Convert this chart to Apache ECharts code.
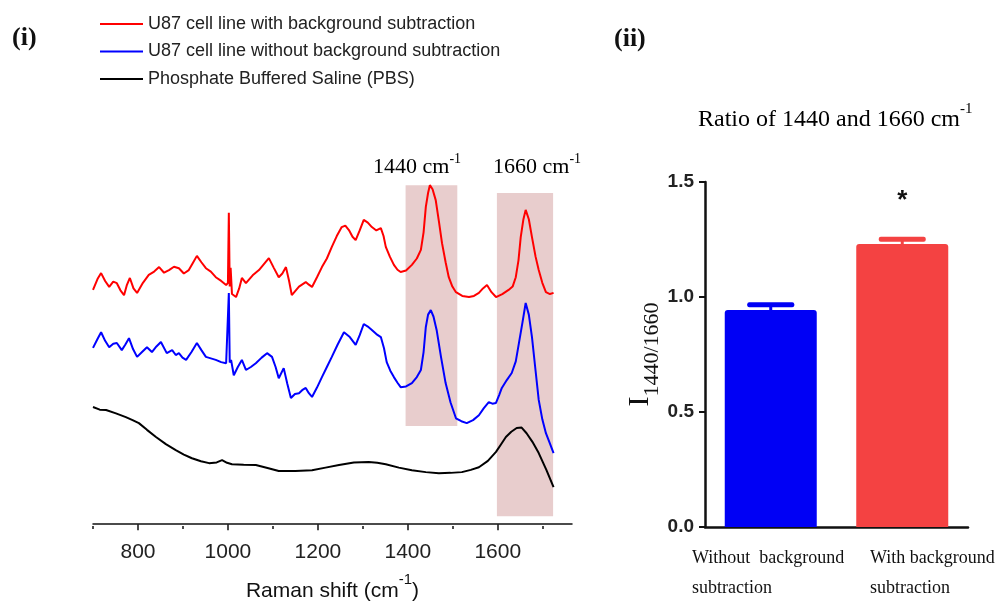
<!DOCTYPE html>
<html><head><meta charset="utf-8">
<script src="https://cdn.jsdelivr.net/npm/echarts@6/dist/echarts.min.js"></script>
<style>html,body{margin:0;padding:0;background:#fff}#c{width:1004px;height:601px}</style>
</head><body><div id="c"></div>
<script>
// ---------- Panel (i): Raman spectra ----------
const seriesNames = ['U87 cell line with background subtraction', 'U87 cell line without background subtraction', 'Phosphate Buffered Saline (PBS)'];
const seriesColors = ['#ff0000', '#0000ff', '#000000'];

const redShift = [700,710,718,727,736,745,753,761,769,775,782,790,798,811,824,836,847,858,869,880,891,902,913,922,931,941,951,962,973,985,996,1000,1002,1004,1006,1009,1018,1025,1031,1040,1055,1069,1080,1091,1102,1113,1121,1129,1136,1142,1158,1173,1180,1187,1198,1209,1220,1231,1242,1253,1261,1269,1277,1284,1293,1302,1311,1320,1330,1340,1346,1351,1360,1369,1377,1384,1396,1409,1420,1429,1435,1440,1445,1449,1455,1462,1469,1476,1484,1491,1499,1507,1521,1536,1547,1558,1567,1576,1586,1596,1610,1624,1633,1640,1646,1651,1657,1662,1669,1676,1684,1691,1699,1707,1716,1724];
const redIntensity = [62.6,65.5,67.1,65.0,63.4,64.8,64.4,62.5,61.2,63.8,65.8,63.0,61.8,64.5,66.6,67.5,68.7,67.2,67.9,68.8,68.4,67.0,67.9,69.8,71.7,70.0,68.4,67.5,66.0,65.0,63.9,64.5,83.2,63.5,68.5,61.5,60.7,63.0,65.8,64.4,66.5,67.9,69.5,71.1,68.5,66.0,67.0,68.7,65.0,61.2,63.5,64.7,64.0,63.4,66.0,68.7,71.0,74.1,77.0,79.4,79.8,78.6,76.8,75.9,78.5,81.3,80.6,79.4,78.5,79.1,77.0,74.1,71.5,69.3,68.0,67.4,67.8,69.3,71.0,73.3,78.0,84.8,88.5,90.6,89.5,86.6,81.0,75.1,70.0,66.0,63.5,62.0,61.0,60.7,61.0,61.8,63.0,63.9,62.0,60.7,61.5,62.6,63.5,66.0,70.5,76.7,81.5,84.0,81.5,76.7,71.5,67.9,64.5,62.0,61.5,61.8];

const blueShift = [700,710,718,727,736,745,753,764,772,780,789,798,809,820,831,841,851,864,876,884,891,899,907,919,931,941,951,962,973,985,996,1000,1002,1004,1007,1013,1022,1031,1040,1051,1062,1075,1087,1098,1106,1113,1124,1132,1140,1149,1158,1165,1173,1180,1187,1198,1209,1220,1231,1244,1258,1271,1284,1293,1302,1311,1320,1330,1340,1347,1353,1361,1369,1377,1384,1396,1409,1420,1429,1435,1440,1445,1451,1457,1464,1474,1484,1495,1507,1519,1531,1545,1558,1569,1580,1588,1596,1603,1609,1620,1631,1640,1647,1655,1662,1669,1676,1684,1691,1699,1707,1716,1724];
const blueIntensity = [47.1,49.5,51.3,49.0,47.3,48.2,48.4,46.5,48.0,49.7,46.8,44.7,46.0,47.3,46.0,47.5,48.7,45.7,46.5,45.2,45.7,44.5,43.9,46.0,48.4,46.5,44.7,44.3,43.9,43.3,43.0,43.5,61.8,43.2,43.9,39.8,42.0,43.9,41.2,42.0,43.0,44.5,45.7,44.7,42.0,39.0,41.7,37.5,33.7,34.8,35.0,35.8,36.4,35.0,34.0,36.5,39.3,42.0,44.7,48.0,51.3,50.0,47.9,50.5,53.5,52.8,51.9,50.8,50.0,47.0,43.3,41.0,39.3,37.8,36.6,36.8,37.7,39.3,41.2,46.0,52.7,56.0,57.2,55.5,51.9,44.5,37.7,32.5,28.3,27.5,27.0,27.8,29.1,31.0,32.6,32.2,32.4,34.5,36.4,38.5,40.4,43.5,48.4,54.0,59.1,56.0,50.0,41.0,33.2,28.0,24.3,21.5,19.0];

const pbsShift = [700,715,729,751,773,788,802,820,840,862,884,902,920,940,958,975,987,998,1009,1035,1062,1088,1113,1150,1187,1217,1247,1280,1313,1332,1351,1380,1409,1440,1469,1495,1520,1540,1558,1578,1596,1607,1618,1630,1642,1653,1664,1677,1691,1708,1724];
const pbsIntensity = [31.3,30.6,30.5,29.6,28.6,27.8,27.0,25.2,23.3,21.4,19.8,18.6,17.6,16.8,16.3,16.5,17.1,16.4,16.0,15.9,15.8,15.0,14.2,14.2,14.4,15.1,15.8,16.5,16.6,16.4,16.0,15.1,14.4,13.9,13.6,13.7,13.9,14.5,15.2,16.9,19.3,21.3,23.3,24.7,25.7,25.8,24.3,22.0,19.0,14.5,9.9];

const bandShiftRanges = [[1395, 1510], [1598, 1723]];
const bandIntensityRanges = [[26.2, 90.6], [2.1, 88.5]];
const bandLabels = ['1440', '1660'];

const shiftTickLabels = [800, 1000, 1200, 1400, 1600];
const shiftMinorTicks = [700, 900, 1100, 1300, 1500, 1700];

// ---------- Panel (ii): ratio bars ----------
const ratioCategories = ['Without  background\nsubtraction', 'With background\nsubtraction'];
const ratioMeans = [0.943, 1.230];
const ratioErrors = [0.023, 0.021];
const ratioSignificance = ['', '*'];
const ratioColors = ['#0000f5', '#f44242'];
const ratioTicks = [0, 0.5, 1.0, 1.5];

const zip = (xs, ys) => xs.map((x, i) => [x, ys[i]]);
const serif = '"Liberation Serif", "DejaVu Serif", serif';
const sans = '"Liberation Sans", Arial, sans-serif';

const chart = echarts.init(document.getElementById('c'), null, {renderer: 'canvas'});

const lineSeries = [[redShift, redIntensity], [blueShift, blueIntensity], [pbsShift, pbsIntensity]].map((s, i) => ({
  name: seriesNames[i], type: 'line', xAxisIndex: 0, yAxisIndex: 0,
  data: zip(s[0], s[1]), symbol: 'none', color: seriesColors[i],
  lineStyle: {width: 2, color: seriesColors[i]}, z: 3,
  markArea: i === 0 ? {
    silent: true,
    itemStyle: {color: '#e8cdcd'},
    data: bandShiftRanges.map((r, k) => [
      {xAxis: r[0], yAxis: bandIntensityRanges[k][1]},
      {xAxis: r[1], yAxis: bandIntensityRanges[k][0]}
    ])
  } : undefined
}));

const supRich = (size, supSize, family, lh) => ({
  a: {fontSize: size, fontFamily: family, color: '#111', lineHeight: lh, verticalAlign: 'bottom'},
  s: {fontSize: supSize, fontFamily: family, color: '#111', lineHeight: supSize, verticalAlign: 'top'}
});

const option = {
  animation: false,
  backgroundColor: '#fff',
  legend: {
    data: seriesNames, orient: 'vertical', left: 95, top: 10,
    icon: 'rect', itemWidth: 43, itemHeight: 2, itemGap: 9.5,
    textStyle: {fontSize: 18, fontFamily: sans, color: '#222', lineHeight: 18},
    selectedMode: false
  },
  grid: [
    {left: 93, top: 150, width: 479, height: 376, outerBoundsMode: 'none'},
    {left: 705, top: 182, width: 263, height: 345, outerBoundsMode: 'none'}
  ],
  xAxis: [
    {
      type: 'value', gridIndex: 0, min: 700, max: 1765, position: 'bottom',
      axisLine: {show: true, lineStyle: {color: '#111', width: 1.5}},
      axisTick: {show: true, customValues: shiftTickLabels, length: 6, lineStyle: {color: '#111', width: 1.5}},
      axisLabel: {show: true, customValues: shiftTickLabels, fontSize: 21, fontFamily: sans, color: '#222', margin: 16,
        formatter: v => String(v)},
      splitLine: {show: false},
      name: '{a|Raman shift (cm}{s|-1}{a|)}', nameLocation: 'middle', nameGap: 46,
      nameTextStyle: {rich: supRich(21, 15, sans, 30)}
    },
    {
      type: 'value', gridIndex: 0, min: 700, max: 1765, position: 'bottom', offset: 0,
      axisLine: {show: false},
      axisTick: {show: true, customValues: shiftMinorTicks, length: 3, lineStyle: {color: '#111', width: 1.5}},
      axisLabel: {show: false}, splitLine: {show: false}
    },
    {
      type: 'category', gridIndex: 1, data: ratioCategories,
      axisLine: {lineStyle: {color: '#111', width: 2.5}},
      axisTick: {alignWithLabel: true, length: 7, lineStyle: {color: '#111', width: 2.5}},
      axisLabel: {show: false}
    }
  ],
  yAxis: [
    {type: 'value', gridIndex: 0, min: -0.5, max: 100, show: false},
    {
      type: 'value', gridIndex: 1, min: 0, max: 1.5, interval: 0.5,
      axisLine: {show: true, lineStyle: {color: '#111', width: 2.5}},
      axisTick: {show: true, length: 6, lineStyle: {color: '#111', width: 2}},
      axisLabel: {fontSize: 19, fontWeight: 'bold', fontFamily: sans, color: '#222', margin: 11,
        formatter: v => v.toFixed(1)},
      splitLine: {show: false},
      name: '{i|I}{s|1440/1660}', nameLocation: 'middle', nameRotate: 90, nameGap: 50,
      nameTextStyle: {rich: {
        i: {fontSize: 30, fontFamily: serif, color: '#111', lineHeight: 28, verticalAlign: 'top'},
        s: {fontSize: 22, fontFamily: serif, color: '#111', lineHeight: 22, padding: [17, 0, 0, 0], verticalAlign: 'top'}
      }}
    }
  ],
  series: lineSeries.concat([
    {
      type: 'custom', xAxisIndex: 2, yAxisIndex: 1, z: 1,
      data: ratioMeans.map((m, i) => [i, m, m + ratioErrors[i]]),
      renderItem: (params, api) => {
        const i = api.value(0);
        const base = api.coord([i, api.value(1)]);
        const top = api.coord([i, api.value(2)]);
        const c = ratioColors[params.dataIndex];
        return {type: 'group', children: [
          {type: 'rect', shape: {x: base[0] - 1.5, y: top[1], width: 3, height: base[1] - top[1] + 3}, style: {fill: c}},
          {type: 'rect', shape: {x: base[0] - 23.5, y: top[1] - 2.5, width: 47, height: 5, r: 2}, style: {fill: c}}
        ]};
      }
    },
    {
      type: 'bar', xAxisIndex: 2, yAxisIndex: 1, barWidth: 92, z: 2,
      data: ratioMeans.map((m, i) => ({value: m, itemStyle: {color: ratioColors[i], borderRadius: [3, 3, 0, 0]}})),
      label: {show: true, position: 'top', distance: 30, fontSize: 26, fontWeight: 'bold', fontFamily: sans, color: '#111',
        formatter: p => ratioSignificance[p.dataIndex]}
    }
  ]),
  graphic: [
    {type: 'text', left: 12, top: 25, style: {text: '(i)', font: 'bold 26px ' + serif, fill: '#111'}},
    {type: 'text', left: 614, top: 26, style: {text: '(ii)', font: 'bold 26px ' + serif, fill: '#111'}},
    {type: 'text', left: 373, top: 152, style: {text: '{a|' + bandLabels[0] + ' cm}{s|-1}', rich: supRich(22, 14, serif, 26)}},
    {type: 'text', left: 493, top: 152, style: {text: '{a|' + bandLabels[1] + ' cm}{s|-1}', rich: supRich(22, 14, serif, 26)}},
    {type: 'text', left: 698, top: 102, style: {text: '{a|Ratio of ' + bandLabels[0] + ' and ' + bandLabels[1] + ' cm}{s|-1}', rich: supRich(24, 15, serif, 30)}},
    {type: 'text', left: 692, top: 543, style: {text: ratioCategories[0], font: '18px ' + serif, fill: '#111', lineHeight: 30}},
    {type: 'text', left: 870, top: 543, style: {text: ratioCategories[1], font: '18px ' + serif, fill: '#111', lineHeight: 30}}
  ]
};
chart.setOption(option);
</script>
</body></html>
